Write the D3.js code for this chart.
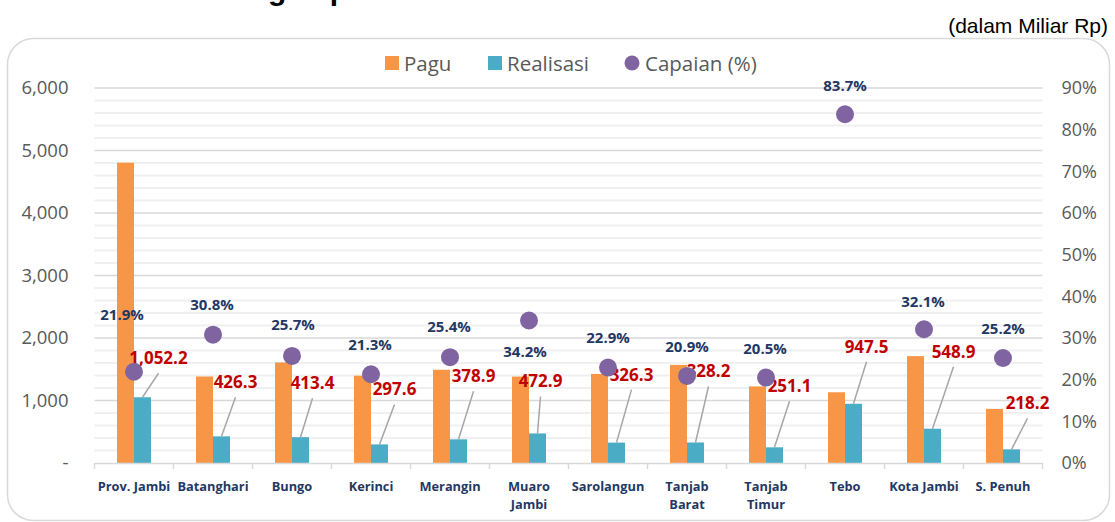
<!DOCTYPE html>
<html>
<head>
<meta charset="utf-8">
<script src="https://cdn.jsdelivr.net/npm/d3@7"></script>
<style>
  body { margin: 0; background: #fff; }
  svg { display: block; }
</style>
</head>
<body>
<svg id="chart"></svg>
<script>
// data (dalam Miliar Rp)
const categories = ["Prov. Jambi", "Batanghari", "Bungo", "Kerinci", "Merangin", "Muaro Jambi",
                    "Sarolangun", "Tanjab Barat", "Tanjab Timur", "Tebo", "Kota Jambi", "S. Penuh"];
const pagu = [4805, 1384, 1609, 1397, 1492, 1383, 1425, 1570, 1225, 1132, 1710, 866];
const realisasi = [1052.2, 426.3, 413.4, 297.6, 378.9, 472.9, 326.3, 328.2, 251.1, 947.5, 548.9, 218.2];
const capaian = [21.9, 30.8, 25.7, 21.3, 25.4, 34.2, 22.9, 20.9, 20.5, 83.7, 32.1, 25.2];
const leftTicks = [0, 1000, 2000, 3000, 4000, 5000, 6000];
const rightTicks = [0, 10, 20, 30, 40, 50, 60, 70, 80, 90];

// manual label placement (like the hand-dragged labels in the original)
const realLabelNudge = [[16, -39], [14, -54], [12, -54], [15, -55], [15, -63], [3, -52],
                        [15, -68], [13, -71], [15, -61], [13, -57], [21, -77], [16, -46]];
const capLabelNudge = [[-12, -57], [-1, -30], [1, -31], [-1, -30], [-1, -30], [-4, 31],
                       [0, -30], [0, -29], [-1, -29], [0, -29], [-1, -28], [0, -29]];

const width = 1115, height = 522;
const plotLeft = 94.5, plotRight = 1042.5, plotTop = 88, plotBottom = 463;

const svg = d3.select("#chart").attr("width", width).attr("height", height);

// frame + title (cropped off at the top edge, as in the original)
svg.append("rect")
  .attr("x", 7.5).attr("y", 38.5).attr("width", 1102).attr("height", 482)
  .attr("rx", 26).attr("fill", "none").attr("stroke", "#d9d9d9").attr("stroke-width", 1.5);

const titleText = "Realisasi Keuangan per Daerah";
const title = svg.append("text")
  .attr("y", 0)
  .style("font-family", "Liberation Sans, Arial, sans-serif")
  .style("font-weight", "bold").style("font-size", "30px").attr("fill", "#000")
  .text(titleText);
const prefixW = title.node().getSubStringLength(0, titleText.indexOf("g"));
title.attr("x", 268 - prefixW);

svg.append("text")
  .attr("x", 1108).attr("y", 33).attr("text-anchor", "end")
  .style("font-family", "Liberation Sans, Arial, sans-serif").style("font-size", "21px")
  .attr("fill", "#000").text("(dalam Miliar Rp)");

// scales
const x = d3.scaleBand().domain(categories).range([plotLeft, plotRight]).padding(0);
const y = d3.scaleLinear().domain([0, 6000]).range([plotBottom, plotTop]);
const y2 = d3.scaleLinear().domain([0, 90]).range([plotBottom, plotTop]);
const barW = 17;
const cx = d => x(d) + x.bandwidth() / 2;

// gridlines (minor every 200, major every 1000)
svg.append("g").selectAll("line")
  .data(d3.range(200, 6000, 200).filter(v => v % 1000 !== 0))
  .join("line")
  .attr("x1", plotLeft).attr("x2", plotRight)
  .attr("y1", d => y(d)).attr("y2", d => y(d))
  .attr("stroke", "#f0f0f0").attr("stroke-width", 2);
svg.append("g").selectAll("line")
  .data(leftTicks.filter(v => v > 0))
  .join("line")
  .attr("x1", plotLeft).attr("x2", plotRight)
  .attr("y1", d => y(d)).attr("y2", d => y(d))
  .attr("stroke", "#d9d9d9").attr("stroke-width", 1.5);

const axisFont = "Open Sans, Noto Sans, sans-serif";

// left axis
const yAxis = d3.axisLeft(y).tickValues(leftTicks).tickSize(0).tickPadding(26)
  .tickFormat(d => d === 0 ? "-" : d3.format(",")(d));
svg.append("g")
  .attr("transform", `translate(${plotLeft},0)`)
  .call(yAxis)
  .call(g => g.select(".domain").remove())
  .call(g => g.selectAll("text").attr("fill", "#595959")
    .style("font-family", axisFont).style("font-size", "18.5px"));

// right axis
const y2Axis = d3.axisRight(y2).tickValues(rightTicks).tickSize(0).tickPadding(19)
  .tickFormat(d => d + "%");
svg.append("g")
  .attr("transform", `translate(${plotRight},0)`)
  .call(y2Axis)
  .call(g => g.select(".domain").remove())
  .call(g => g.selectAll("text").attr("fill", "#595959")
    .style("font-family", axisFont).style("font-size", "18px"));

// bars
svg.append("g").selectAll("rect")
  .data(categories)
  .join("rect")
  .attr("x", d => cx(d) - barW).attr("width", barW)
  .attr("y", (d, i) => y(pagu[i])).attr("height", (d, i) => y(0) - y(pagu[i]))
  .attr("fill", "#f79646");
svg.append("g").selectAll("rect")
  .data(categories)
  .join("rect")
  .attr("x", d => cx(d)).attr("width", barW)
  .attr("y", (d, i) => y(realisasi[i])).attr("height", (d, i) => y(0) - y(realisasi[i]))
  .attr("fill", "#4bacc6");

// bottom axis
const xAxis = d3.axisBottom(x).tickSize(0).tickFormat("");
svg.append("g")
  .attr("transform", `translate(0,${plotBottom})`)
  .call(xAxis)
  .call(g => g.select(".domain").attr("stroke", "#d9d9d9").attr("stroke-width", 1.5));
svg.append("g").selectAll("line")
  .data(categories.concat(["end"]))
  .join("line")
  .attr("x1", (d, i) => plotLeft + i * x.step()).attr("x2", (d, i) => plotLeft + i * x.step())
  .attr("y1", plotBottom).attr("y2", plotBottom + 6)
  .attr("stroke", "#d9d9d9").attr("stroke-width", 1.5);

const catLabels = svg.append("g").selectAll("text")
  .data(categories)
  .join("text")
  .attr("x", d => cx(d)).attr("y", 491)
  .attr("text-anchor", "middle")
  .style("font-family", axisFont).style("font-weight", "bold").style("font-size", "12.8px")
  .attr("fill", "#1f3864");
catLabels.each(function (d) {
  const words = (d === "Muaro Jambi" || d.startsWith("Tanjab")) ? d.split(" ") : [d];
  d3.select(this).selectAll("tspan")
    .data(words)
    .join("tspan")
    .attr("x", cx(d)).attr("dy", (w, i) => i === 0 ? 0 : 18)
    .text(w => w);
});

// leader lines + realisasi labels
svg.append("g").selectAll("line")
  .data(categories)
  .join("line")
  .attr("x1", d => cx(d) + barW / 2)
  .attr("y1", (d, i) => y(realisasi[i]))
  .attr("x2", (d, i) => cx(d) + barW / 2 + realLabelNudge[i][0])
  .attr("y2", (d, i) => y(realisasi[i]) + realLabelNudge[i][1] + 15)
  .attr("stroke", "#a6a6a6").attr("stroke-width", 1.5);
svg.append("g").selectAll("text")
  .data(categories)
  .join("text")
  .attr("x", (d, i) => cx(d) + barW / 2 + realLabelNudge[i][0])
  .attr("y", (d, i) => y(realisasi[i]) + realLabelNudge[i][1])
  .attr("dy", "0.35em").attr("text-anchor", "middle")
  .style("font-family", axisFont).style("font-weight", "bold").style("font-size", "17px")
  .attr("fill", "#c00000")
  .text((d, i) => d3.format(",.1f")(realisasi[i]));

// capaian dots + labels
svg.append("g").selectAll("circle")
  .data(categories)
  .join("circle")
  .attr("cx", d => cx(d)).attr("cy", (d, i) => y2(capaian[i]))
  .attr("r", 9).attr("fill", "#8064a2");
svg.append("g").selectAll("text")
  .data(categories)
  .join("text")
  .attr("x", (d, i) => cx(d) + capLabelNudge[i][0])
  .attr("y", (d, i) => y2(capaian[i]) + capLabelNudge[i][1])
  .attr("dy", "0.35em").attr("text-anchor", "middle")
  .style("font-family", axisFont).style("font-weight", "bold").style("font-size", "15px")
  .attr("fill", "#1f3864")
  .text((d, i) => capaian[i].toFixed(1) + "%");

// legend
const legend = svg.append("g").attr("transform", "translate(0,63)")
  .style("font-family", axisFont).style("font-size", "20.5px");
legend.append("rect").attr("x", 385).attr("y", -7).attr("width", 14).attr("height", 14).attr("fill", "#f79646");
legend.append("text").attr("x", 404).attr("y", 8).attr("fill", "#595959").text("Pagu");
legend.append("rect").attr("x", 488).attr("y", -7).attr("width", 14).attr("height", 14).attr("fill", "#4bacc6");
legend.append("text").attr("x", 507).attr("y", 8).attr("fill", "#595959").text("Realisasi");
legend.append("circle").attr("cx", 632).attr("r", 7.5).attr("fill", "#8064a2");
legend.append("text").attr("x", 645).attr("y", 8).attr("fill", "#595959").text("Capaian (%)");
</script>
</body>
</html>
